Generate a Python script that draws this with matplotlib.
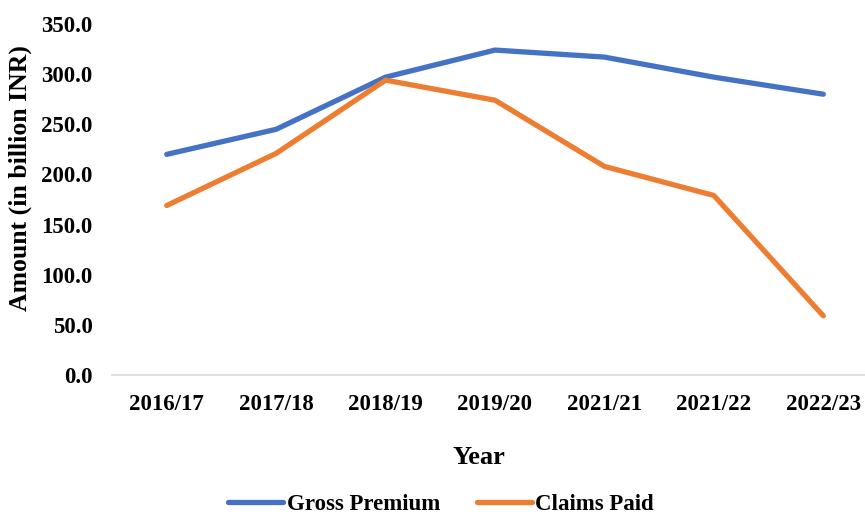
import matplotlib
matplotlib.use("Agg")
import matplotlib.pyplot as plt
from matplotlib.lines import Line2D

years = ["2016/17", "2017/18", "2018/19", "2019/20", "2021/21", "2021/22", "2022/23"]
gross_premium = [220, 245, 297, 324, 317, 297, 280]
claims_paid = [169, 221, 294, 274, 208, 179, 59]
y_ticks = [0, 50, 100, 150, 200, 250, 300, 350]

plt.rcParams['font.family'] = ['Liberation Serif', 'DejaVu Serif']
plt.rcParams['font.weight'] = 'bold'

fig = plt.figure(figsize=(8.65, 5.15), dpi=100)
ax = fig.add_axes([112/865, 1-375/515, 766/865, 351/515])

x = list(range(len(years)))
ax.plot(x, gross_premium, color='#4472C4', lw=3.8, solid_capstyle='round', solid_joinstyle='round', label='Gross Premium')
ax.plot(x, claims_paid, color='#ED7D31', lw=3.8, solid_capstyle='round', solid_joinstyle='round', label='Claims Paid')

ax.set_xlim(-0.5, len(years) - 0.5)
ax.set_ylim(0, 350)
ax.set_yticks(y_ticks)
ax.set_yticklabels([f"{v:.1f}" for v in y_ticks], fontsize=16.5, fontweight='bold')
ax.set_xticks(x)
ax.set_xticklabels(years, fontsize=16.5, fontweight='bold')
ax.tick_params(axis='both', length=0)
ax.tick_params(axis='x', pad=14)
ax.tick_params(axis='y', pad=14)

for s in ['top', 'right', 'left']:
    ax.spines[s].set_visible(False)
ax.spines['bottom'].set_color('#D9D9D9')
ax.spines['bottom'].set_linewidth(1.2)

fig.text(479/865, 1-457/515, "Year", ha='center', va='center', fontsize=19, fontweight='bold')
fig.text(20/865, 1-178/515, "Amount (in billion INR)", ha='center', va='center', rotation=90, fontsize=18.5, fontweight='bold')

handles = [Line2D([], [], color='#4472C4', lw=3.8, solid_capstyle='round'),
           Line2D([], [], color='#ED7D31', lw=3.8, solid_capstyle='round')]
fig.legend(handles, ['Gross Premium', 'Claims Paid'], loc='center', bbox_to_anchor=(441/865, 1-504/515),
           ncol=2, frameon=False, prop={'size': 16.5, 'weight': 'bold'}, handlelength=2.4, handletextpad=0.15, columnspacing=1.6)

fig.savefig("out.png", dpi=100)
